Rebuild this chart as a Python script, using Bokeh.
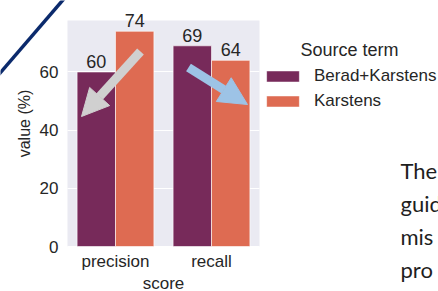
from bokeh.plotting import figure
from bokeh.models import (ColumnDataSource, FixedTicker, Range1d, Legend, LegendItem,
                          LabelSet, Label, Arrow, NormalHead)
from bokeh.core.properties import value
from bokeh.embed import file_html
from bokeh.resources import INLINE

# ---- data ----
categories = ["precision", "recall"]
series_names = ["Berad+Karstens", "Karstens"]
berad_karstens = [60, 69]
karstens = [74, 64]
y_ticks = [0, 20, 40, 60]
legend_title = "Source term"
side_text = ["The", "guid", "mis", "pro"]

# ---- style / layout ----
colors = ["#772a5a", "#de6b52"]
TXT = "#262626"
FONT = "Liberation Sans"
W, H = 438, 291
CL, CR, CT, CB = 67, 259, 20, 246          # chart (axes) box in page pixels
n = len(categories)
ymax = max(berad_karstens + karstens) * 1.05
PXX = (CR - CL) / n
PXY = (CB - CT) / ymax

p = figure(width=W, height=H, output_backend="svg", toolbar_location=None,
           x_range=Range1d(-0.5 - CL / PXX, n - 0.5 + (W - CR) / PXX),
           y_range=Range1d(-(H - CB) / PXY, ymax + CT / PXY),
           min_border=0, min_border_left=0, min_border_right=0,
           min_border_top=0, min_border_bottom=0,
           background_fill_color="white", border_fill_color="white",
           outline_line_color=None)

def px2x(sx):
    return -0.5 + (sx - CL) / PXX
def py2y(sy):
    return (CB - sy) / PXY

# axes background
p.quad(left=[-0.5], right=[n - 0.5], bottom=[0], top=[ymax], fill_color="#eaeaf2",
       line_color=None, level="image")

dodge = [-0.2, 0.2]
renderers = []
for k, (name, vals) in enumerate(zip(series_names, [berad_karstens, karstens])):
    src = ColumnDataSource(dict(x=[i + dodge[k] for i in range(n)], top=vals,
                                label=[str(v) for v in vals]))
    r = p.vbar(x="x", top="top", width=0.4, source=src, fill_color=colors[k],
               line_color="white", line_width=0.6)
    renderers.append(r)
    p.add_layout(LabelSet(x="x", y="top", text="label", source=src, text_align="center",
                          text_baseline="bottom", y_offset=4, text_font_size=value("18px"),
                          text_color=value(TXT), text_font=value(FONT)))

# axes (drawn at fixed locations around the chart box)
xax, yax = p.xaxis[0], p.yaxis[0]
xax.ticker = FixedTicker(ticks=list(range(n)))
xax.major_label_overrides = {i: c for i, c in enumerate(categories)}
yax.ticker = FixedTicker(ticks=y_ticks)
xax.fixed_location = 0
yax.fixed_location = -0.5
xax.bounds = (-0.5, n - 0.5)
yax.bounds = (0, 2 * py2y(122.5))
for ax in (xax, yax):
    ax.axis_line_color = None
    ax.major_tick_line_color = None
    ax.minor_tick_line_color = None
    ax.major_tick_out = 0
    ax.minor_tick_out = 0
    ax.major_tick_in = 0
    ax.minor_tick_in = 0
    ax.major_label_text_font_size = "17px"
    ax.major_label_text_font = FONT
    ax.major_label_text_color = TXT
    ax.axis_label_text_font = FONT
    ax.axis_label_text_font_style = "normal"
    ax.axis_label_text_color = TXT
xax.axis_label = "score"
yax.axis_label = "value (%)"
xax.axis_label_text_font_size = "17px"
yax.axis_label_text_font_size = "16px"
xax.major_label_standoff = 5
xax.axis_label_standoff = 0
yax.major_label_standoff = 9
yax.axis_label_standoff = 4

p.xgrid.grid_line_color = None
yg = p.ygrid[0]
yg.ticker = FixedTicker(ticks=y_ticks)
yg.grid_line_color = "white"
yg.grid_line_width = 1.2
if "cross_bounds" in yg.properties():
    yg.cross_bounds = (-0.5, n - 0.5)
else:
    yg.grid_line_color = None
    p.segment(x0=[-0.5] * len(y_ticks), x1=[n - 0.5] * len(y_ticks), y0=y_ticks, y1=y_ticks,
              line_color="white", line_width=1.2, level="underlay")

# legend
legend = Legend(items=[LegendItem(label=nm, renderers=[r]) for nm, r in zip(series_names, renderers)],
                location=(262, 180), orientation="vertical", glyph_width=41, glyph_height=14,
                label_height=14, label_standoff=11, spacing=5, padding=0, margin=0,
                border_line_color=None, background_fill_alpha=0, label_text_font_size="17px",
                label_text_font=FONT, label_text_color=TXT)
p.add_layout(legend)
p.add_layout(Label(x=px2x(300), y=py2y(39), text=legend_title, text_baseline="top",
                   text_font_size="18px", text_font=FONT, text_color=TXT))

# decorations from the slide
p.add_layout(Arrow(end=None, x_start=px2x(-3), y_start=py2y(75.5), x_end=px2x(65), y_end=py2y(-3.5),
                   line_color="#0b2a6c", line_width=3.5))
p.add_layout(Arrow(end=NormalHead(size=27, fill_color="#d0d0d0", line_color="#d0d0d0"),
                   x_start=px2x(140), y_start=py2y(51), x_end=px2x(81), y_end=py2y(116),
                   line_color="#d0d0d0", line_width=9))
p.add_layout(Arrow(end=NormalHead(size=28, fill_color="#9dc3e6", line_color="#9dc3e6"),
                   x_start=px2x(188), y_start=py2y(67), x_end=px2x(247), y_end=py2y(104),
                   line_color="#9dc3e6", line_width=9))
for j, t in enumerate(side_text):
    p.add_layout(Label(x=px2x(400), y=py2y(170 + 33 * j), text=t, text_baseline="alphabetic",
                       text_font_size="22px", text_font="Lato", text_color="#1e1e1e"))

open("out.html", "w").write(file_html(p, INLINE))
